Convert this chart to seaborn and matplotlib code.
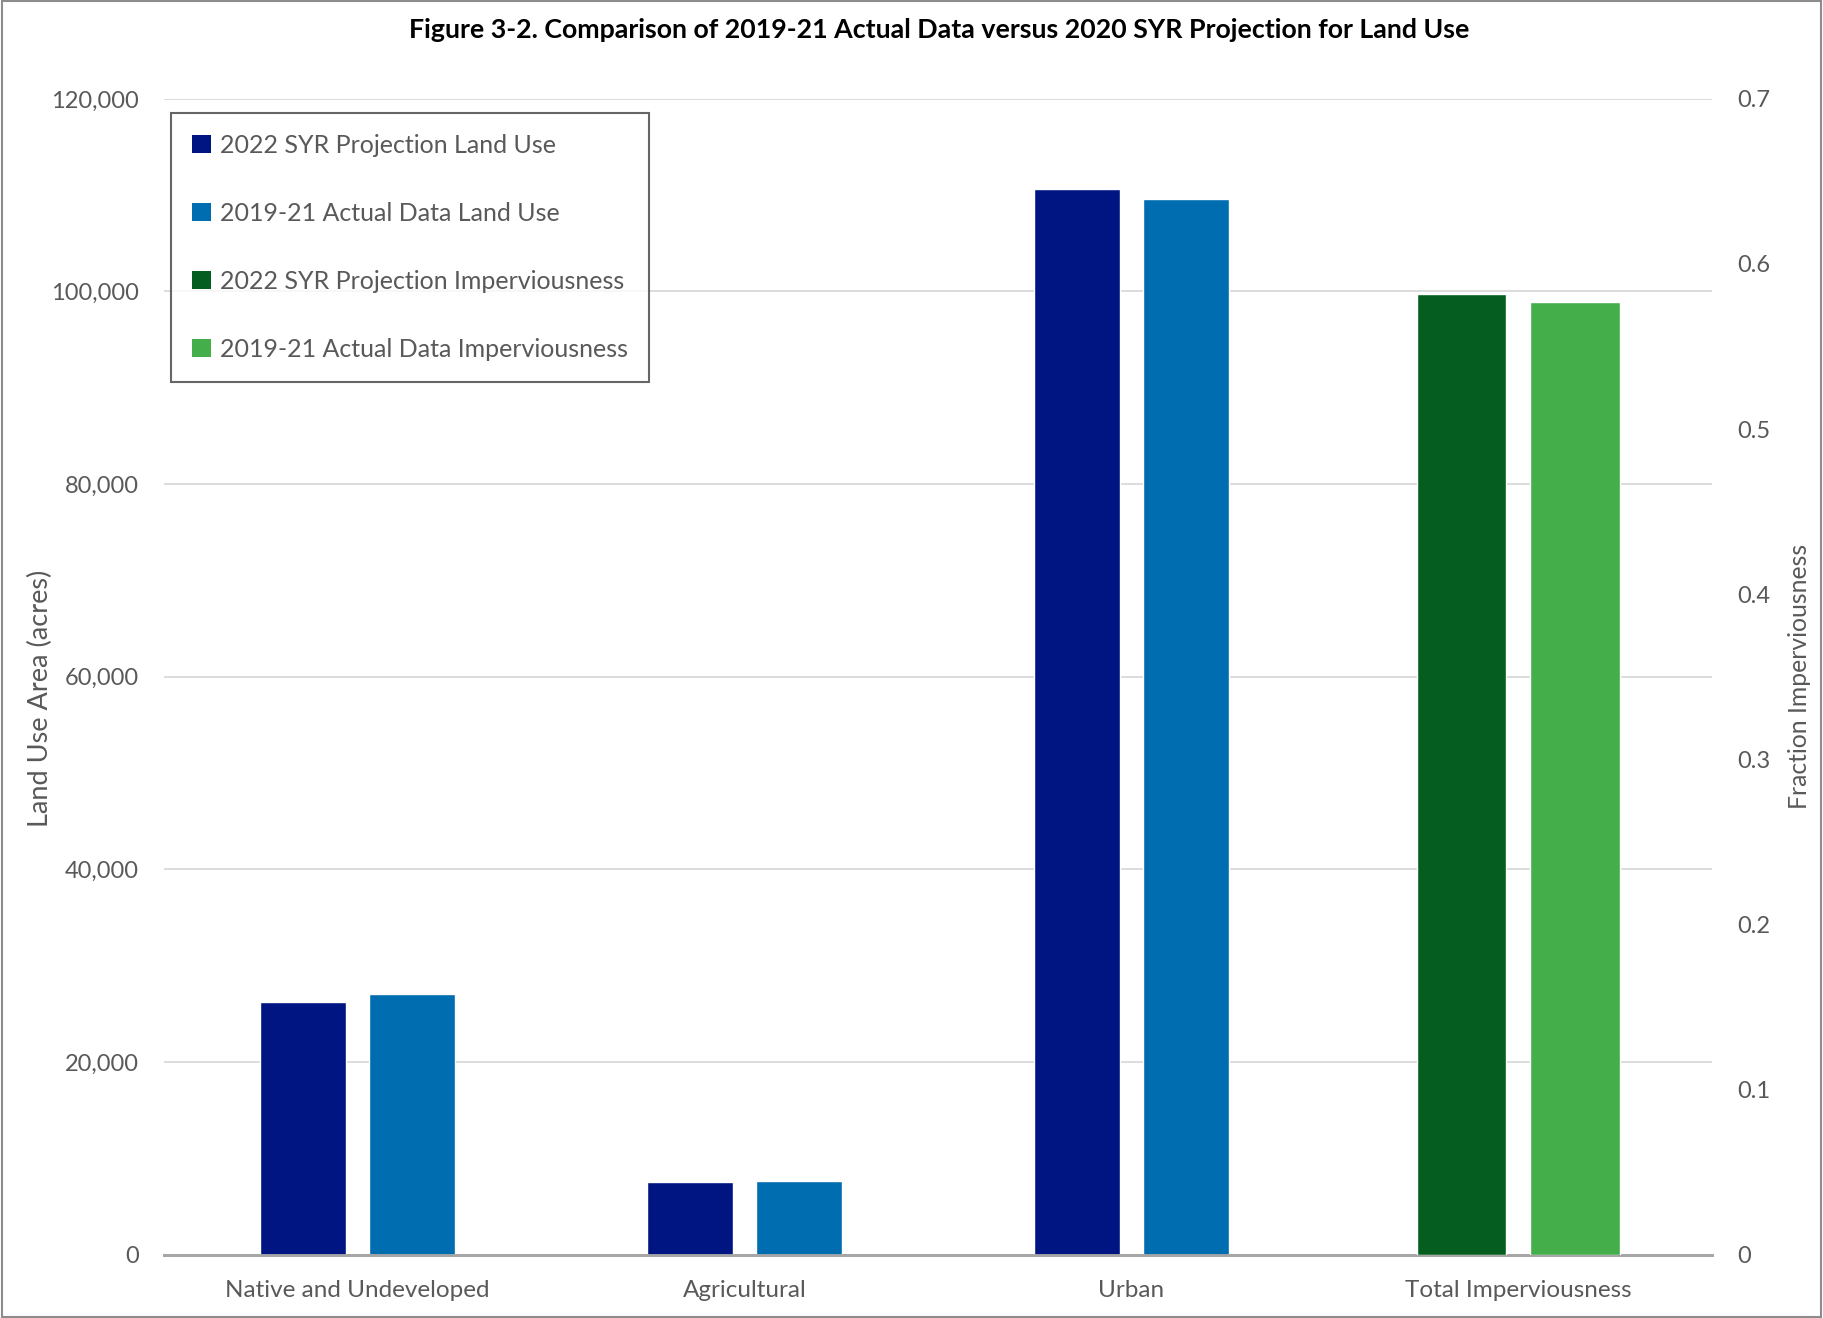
import pandas as pd
import seaborn as sns
import matplotlib.pyplot as plt
from matplotlib.patches import Patch, Rectangle
from matplotlib.ticker import FuncFormatter, MultipleLocator

# Data
categories = ['Native and Undeveloped', 'Agricultural', 'Urban', 'Total Imperviousness']
land_use_cats = ['Native and Undeveloped', 'Agricultural', 'Urban']
proj_land_use = [26200, 7500, 110600]
actual_land_use = [27100, 7700, 109600]
proj_imperv = [0.582]
actual_imperv = [0.577]

series_names = ['2022 SYR Projection Land Use', '2019-21 Actual Data Land Use',
                '2022 SYR Projection Imperviousness', '2019-21 Actual Data Imperviousness']
colors = ['#001482', '#006DB0', '#055E20', '#43AE4A']

# Long-form tables for seaborn
land_df = pd.DataFrame({
    'Category': land_use_cats * 2,
    'Series': [series_names[0]] * 3 + [series_names[1]] * 3,
    'Value': proj_land_use + actual_land_use,
})
imp_df = pd.DataFrame({
    'Category': ['Total Imperviousness'] * 2,
    'Series': [series_names[2], series_names[3]],
    'Value': proj_imperv + actual_imperv,
})

sns.set_theme(style='white')
plt.rcParams['font.family'] = ['Lato', 'DejaVu Sans']
grey = '#595959'

fig = plt.figure(figsize=(18.23, 13.18), dpi=100)
ax = fig.add_axes([0.090, 0.048, 0.849, 0.877])
ax2 = ax.twinx()

sns.barplot(data=land_df, x='Category', y='Value', hue='Series', order=categories,
            hue_order=series_names[:2], palette=colors[:2], width=0.565, gap=0.21,
            saturation=1, ax=ax, legend=False, zorder=3)
sns.barplot(data=imp_df, x='Category', y='Value', hue='Series', order=categories,
            hue_order=series_names[2:], palette=colors[2:], width=0.585, gap=0.21,
            saturation=1, ax=ax2, legend=False, zorder=3)

# Primary axis
ax.set_ylim(0, 120000)
ax.yaxis.set_major_locator(MultipleLocator(20000))
ax.yaxis.set_major_formatter(FuncFormatter(lambda v, p: f'{v:,.0f}'))
ax.grid(axis='y', color='#D9D9D9', linewidth=1.3, zorder=0)
ax.set_axisbelow(True)
ax.set_xlabel('')
ax.set_ylabel('Land Use Area (acres)', fontsize=19.5, color=grey)
ax.yaxis.set_label_coords(-0.0715, 0.481)
ax.tick_params(axis='y', labelsize=17, labelcolor=grey, pad=18, length=0)
ax.tick_params(axis='x', labelsize=17.5, labelcolor=grey, pad=18, length=0)

# Secondary axis
ax2.set_ylim(0, 0.7)
ax2.yaxis.set_major_locator(MultipleLocator(0.1))
ax2.yaxis.set_major_formatter(FuncFormatter(lambda v, p: '0' if v == 0 else f'{v:.1f}'))
ax2.set_ylabel('Fraction Imperviousness', fontsize=17.8, color=grey)
ax2.yaxis.set_label_coords(1.049, 0.5)
ax2.tick_params(axis='y', labelsize=17, labelcolor=grey, pad=18, length=0)
ax2.set_xlim(-0.5, 3.5)
ax.set_xlim(-0.5, 3.5)

for a in (ax, ax2):
    for side in ['top', 'left', 'right']:
        a.spines[side].set_visible(False)
    a.spines['bottom'].set_color('#A6A6A6')
    a.spines['bottom'].set_linewidth(2)

# Legend
handles = [Patch(facecolor=c, edgecolor='none') for c in colors]
leg = ax.legend(handles, series_names, loc='upper left', bbox_to_anchor=(0.0045, 0.988),
                borderaxespad=0, fontsize=18, frameon=True, fancybox=False,
                labelspacing=1.8, handlelength=0.75, handleheight=0.75,
                handletextpad=0.35, borderpad=0.85, labelcolor=grey)
leg.get_frame().set_edgecolor('#404040')
leg.get_frame().set_linewidth(1.5)

# Title
fig.text(0.515, 0.977, 'Figure 3-2. Comparison of 2019-21 Actual Data versus 2020 SYR Projection for Land Use',
         ha='center', va='center', fontsize=19.3, fontweight='bold', color='black')

# Figure border
fig.patches.append(Rectangle((0.001, 0.001), 0.998, 0.998, transform=fig.transFigure,
                             fill=False, edgecolor='#8C8C8C', linewidth=1.5))

fig.savefig('out.png', dpi=100)
